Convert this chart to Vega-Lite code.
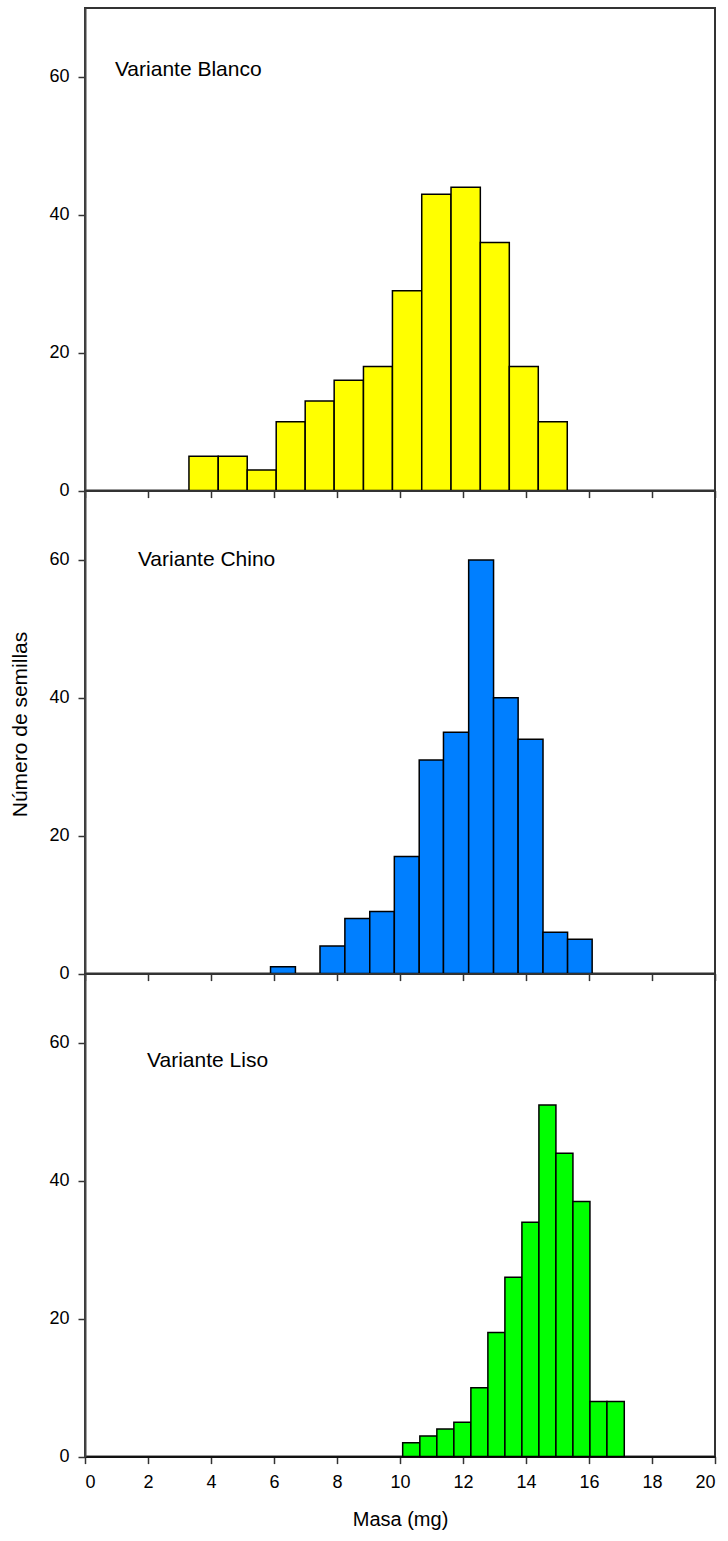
{
  "$schema": "https://vega.github.io/schema/vega-lite/v6.json",
  "autosize": {"type": "none"},
  "padding": {"left": 85, "top": 8, "right": 13, "bottom": 1533},
  "background": "white",
  "spacing": 0,
  "bounds": "flush",
  "config": {
    "font": "Liberation Sans",
    "view": {"stroke": "#333333", "strokeWidth": 2},
    "axis": {
      "grid": false,
      "domainColor": "#111111", "domainWidth": 2,
      "tickColor": "#333333", "tickWidth": 1.5, "tickSize": 7,
      "labelFont": "Liberation Sans", "labelFontSize": 18, "labelColor": "#000000",
      "titleFont": "Liberation Sans", "titleFontSize": 20, "titleFontWeight": "normal", "titleColor": "#000000"
    },
    "concat": {"spacing": 0}
  },
  "datasets": {
    "bars": [
      {"variante": "Blanco", "inicio": 3.30, "fin": 4.23, "n": 5},
      {"variante": "Blanco", "inicio": 4.23, "fin": 5.15, "n": 5},
      {"variante": "Blanco", "inicio": 5.15, "fin": 6.07, "n": 3},
      {"variante": "Blanco", "inicio": 6.07, "fin": 6.99, "n": 10},
      {"variante": "Blanco", "inicio": 6.99, "fin": 7.91, "n": 13},
      {"variante": "Blanco", "inicio": 7.91, "fin": 8.84, "n": 16},
      {"variante": "Blanco", "inicio": 8.84, "fin": 9.76, "n": 18},
      {"variante": "Blanco", "inicio": 9.76, "fin": 10.69, "n": 29},
      {"variante": "Blanco", "inicio": 10.69, "fin": 11.62, "n": 43},
      {"variante": "Blanco", "inicio": 11.62, "fin": 12.55, "n": 44},
      {"variante": "Blanco", "inicio": 12.55, "fin": 13.47, "n": 36},
      {"variante": "Blanco", "inicio": 13.47, "fin": 14.39, "n": 18},
      {"variante": "Blanco", "inicio": 14.39, "fin": 15.31, "n": 10},
      {"variante": "Chino", "inicio": 5.89, "fin": 6.68, "n": 1},
      {"variante": "Chino", "inicio": 7.46, "fin": 8.25, "n": 4},
      {"variante": "Chino", "inicio": 8.25, "fin": 9.04, "n": 8},
      {"variante": "Chino", "inicio": 9.04, "fin": 9.82, "n": 9},
      {"variante": "Chino", "inicio": 9.82, "fin": 10.61, "n": 17},
      {"variante": "Chino", "inicio": 10.61, "fin": 11.38, "n": 31},
      {"variante": "Chino", "inicio": 11.38, "fin": 12.18, "n": 35},
      {"variante": "Chino", "inicio": 12.18, "fin": 12.97, "n": 60},
      {"variante": "Chino", "inicio": 12.97, "fin": 13.75, "n": 40},
      {"variante": "Chino", "inicio": 13.75, "fin": 14.54, "n": 34},
      {"variante": "Chino", "inicio": 14.54, "fin": 15.32, "n": 6},
      {"variante": "Chino", "inicio": 15.32, "fin": 16.10, "n": 5},
      {"variante": "Liso", "inicio": 10.085, "fin": 10.63, "n": 2},
      {"variante": "Liso", "inicio": 10.63, "fin": 11.17, "n": 3},
      {"variante": "Liso", "inicio": 11.17, "fin": 11.71, "n": 4},
      {"variante": "Liso", "inicio": 11.71, "fin": 12.25, "n": 5},
      {"variante": "Liso", "inicio": 12.25, "fin": 12.79, "n": 10},
      {"variante": "Liso", "inicio": 12.79, "fin": 13.33, "n": 18},
      {"variante": "Liso", "inicio": 13.33, "fin": 13.87, "n": 26},
      {"variante": "Liso", "inicio": 13.87, "fin": 14.41, "n": 34},
      {"variante": "Liso", "inicio": 14.41, "fin": 14.95, "n": 51},
      {"variante": "Liso", "inicio": 14.95, "fin": 15.49, "n": 44},
      {"variante": "Liso", "inicio": 15.49, "fin": 16.03, "n": 37},
      {"variante": "Liso", "inicio": 16.03, "fin": 16.57, "n": 8},
      {"variante": "Liso", "inicio": 16.57, "fin": 17.12, "n": 8}
    ],
    "labels": [
      {"variante": "Blanco", "texto": "Variante Blanco", "x": 0.95, "y": 61},
      {"variante": "Chino", "texto": "Variante Chino", "x": 1.68, "y": 60},
      {"variante": "Liso", "texto": "Variante Liso", "x": 1.97, "y": 57.4}
    ]
  },
  "vconcat": [
    {
      "width": 630, "height": 482.6,
      "layer": [
        {
          "data": {"name": "bars"},
          "transform": [{"filter": "datum.variante === 'Blanco'"}],
          "mark": {"type": "bar", "fill": "#FFFF00", "stroke": "#000000", "strokeWidth": 1.5},
          "encoding": {
            "x": {"field": "inicio", "type": "quantitative", "scale": {"domain": [0, 20], "nice": false}, "axis": {"values": [0, 2, 4, 6, 8, 10, 12, 14, 16, 18, 20], "labels": false, "title": null}},
            "x2": {"field": "fin"},
            "y": {"field": "n", "type": "quantitative", "scale": {"domain": [0, 70], "nice": false}, "axis": {"values": [0, 20, 40, 60], "title": null, "labelPadding": 9, "domainColor": "#444444"}},
            "y2": {"datum": 0}
          }
        },
        {
          "data": {"name": "labels"},
          "transform": [{"filter": "datum.variante === 'Blanco'"}],
          "mark": {"type": "text", "align": "left", "baseline": "middle", "fontSize": 21, "font": "Liberation Sans", "color": "#000000"},
          "encoding": {
            "x": {"field": "x", "type": "quantitative"},
            "y": {"field": "y", "type": "quantitative"},
            "text": {"field": "texto"}
          }
        }
      ]
    },
    {
      "width": 630, "height": 482.6,
      "layer": [
        {
          "data": {"name": "bars"},
          "transform": [{"filter": "datum.variante === 'Chino'"}],
          "mark": {"type": "bar", "fill": "#007FFF", "stroke": "#000000", "strokeWidth": 1.5},
          "encoding": {
            "x": {"field": "inicio", "type": "quantitative", "scale": {"domain": [0, 20], "nice": false}, "axis": {"values": [0, 2, 4, 6, 8, 10, 12, 14, 16, 18, 20], "labels": false, "title": null}},
            "x2": {"field": "fin"},
            "y": {"field": "n", "type": "quantitative", "scale": {"domain": [0, 70], "nice": false}, "axis": {"values": [0, 20, 40, 60], "title": "Número de semillas", "titleFontSize": 21, "labelPadding": 9, "domainColor": "#444444", "titleX": -65, "titleY": 233, "titleBaseline": "middle", "titleAngle": -90, "titleAlign": "center"}},
            "y2": {"datum": 0}
          }
        },
        {
          "data": {"name": "labels"},
          "transform": [{"filter": "datum.variante === 'Chino'"}],
          "mark": {"type": "text", "align": "left", "baseline": "middle", "fontSize": 21, "font": "Liberation Sans", "color": "#000000"},
          "encoding": {
            "x": {"field": "x", "type": "quantitative"},
            "y": {"field": "y", "type": "quantitative"},
            "text": {"field": "texto"}
          }
        }
      ]
    },
    {
      "width": 630, "height": 482.6,
      "layer": [
        {
          "data": {"name": "bars"},
          "transform": [{"filter": "datum.variante === 'Liso'"}],
          "mark": {"type": "bar", "fill": "#00FF00", "stroke": "#000000", "strokeWidth": 1.5},
          "encoding": {
            "x": {"field": "inicio", "type": "quantitative", "scale": {"domain": [0, 20], "nice": false}, "axis": {"values": [0, 2, 4, 6, 8, 10, 12, 14, 16, 18, 20], "title": "Masa (mg)", "labelPadding": 10, "titleY": 63, "titleBaseline": "middle"}},
            "x2": {"field": "fin"},
            "y": {"field": "n", "type": "quantitative", "scale": {"domain": [0, 70], "nice": false}, "axis": {"values": [0, 20, 40, 60], "title": null, "labelPadding": 9, "domainColor": "#444444"}},
            "y2": {"datum": 0}
          }
        },
        {
          "data": {"name": "labels"},
          "transform": [{"filter": "datum.variante === 'Liso'"}],
          "mark": {"type": "text", "align": "left", "baseline": "middle", "fontSize": 21, "font": "Liberation Sans", "color": "#000000"},
          "encoding": {
            "x": {"field": "x", "type": "quantitative"},
            "y": {"field": "y", "type": "quantitative"},
            "text": {"field": "texto"}
          }
        }
      ]
    }
  ]
}
